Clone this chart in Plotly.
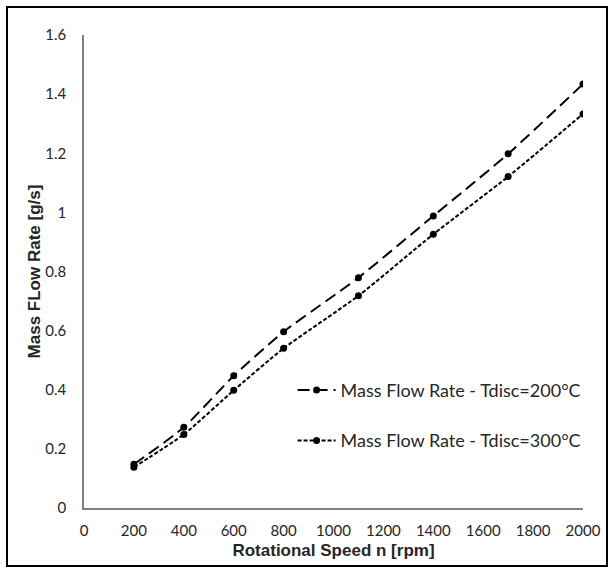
import plotly.graph_objects as go

speed = [200, 400, 600, 800, 1100, 1400, 1700, 2000]
flow_200 = [0.148, 0.273, 0.447, 0.596, 0.779, 0.988, 1.198, 1.434]
flow_300 = [0.138, 0.249, 0.398, 0.540, 0.718, 0.926, 1.121, 1.333]
series_names = ["Mass Flow Rate - Tdisc=200°C", "Mass Flow Rate - Tdisc=300°C"]
x_ticks = [0, 200, 400, 600, 800, 1000, 1200, 1400, 1600, 1800, 2000]
y_ticks = [0, 0.2, 0.4, 0.6, 0.8, 1.0, 1.2, 1.4, 1.6]
y_tick_labels = ["0", "0.2", "0.4", "0.6", "0.8", "1", "1.2", "1.4", "1.6"]

fig = go.Figure()
fig.add_trace(go.Scatter(
    x=speed, y=flow_200, name=series_names[0], mode="lines+markers",
    line=dict(color="black", width=2, dash="12px,6px", shape="spline", smoothing=0.6),
    marker=dict(color="black", size=7), legendgroup="a"))
fig.add_trace(go.Scatter(
    x=speed, y=flow_300, name=series_names[1], mode="lines+markers",
    line=dict(color="black", width=2, dash="4px,2px", shape="spline", smoothing=0.6),
    marker=dict(color="black", size=7), legendgroup="b"))

fig.update_layout(
    width=614, height=569,
    margin=dict(l=84, r=31, t=35, b=61),
    paper_bgcolor="white", plot_bgcolor="white",
    font=dict(family="Lato, Calibri, Arial", color="#262626"),
    showlegend=True,
    legend=dict(x=0.418, y=0.196, xanchor="left", yanchor="middle",
                font=dict(size=18, color="#262626", family="Lato, Calibri, Arial"),
                tracegroupgap=24, bgcolor="rgba(0,0,0,0)", traceorder="grouped",
                itemwidth=38),
    xaxis=dict(range=[0, 2000], tickvals=x_ticks, showline=True, linecolor="#7f7f7f",
               linewidth=1.5, showgrid=False, zeroline=False, ticks="",
               ticklabelstandoff=8,
               tickfont=dict(size=15, color="#262626"),
               title=dict(text="Rotational Speed n [rpm]",
                          font=dict(family="Arial", size=17, color="#262626", weight="bold"),
                          standoff=6)),
    yaxis=dict(range=[0, 1.6], tickvals=y_ticks, ticktext=y_tick_labels, showline=True,
               linecolor="#7f7f7f", linewidth=1.5, showgrid=False, zeroline=False, ticks="",
               ticklabelstandoff=13,
               tickfont=dict(size=15, color="#262626"),
               title=dict(text="Mass FLow Rate [g/s]",
                          font=dict(family="Arial", size=17, color="#262626", weight="bold"),
                          standoff=0)),
    shapes=[dict(type="rect", xref="paper", yref="paper",
                 x0=(7 - 84) / 499, x1=(607 - 84) / 499,
                 y0=(508 - 566) / 473, y1=(508 - 7) / 473,
                 line=dict(color="black", width=2))],
)

fig.write_html("out.html", config={"displayModeBar": False},
               post_script="document.body.style.margin='0';")
